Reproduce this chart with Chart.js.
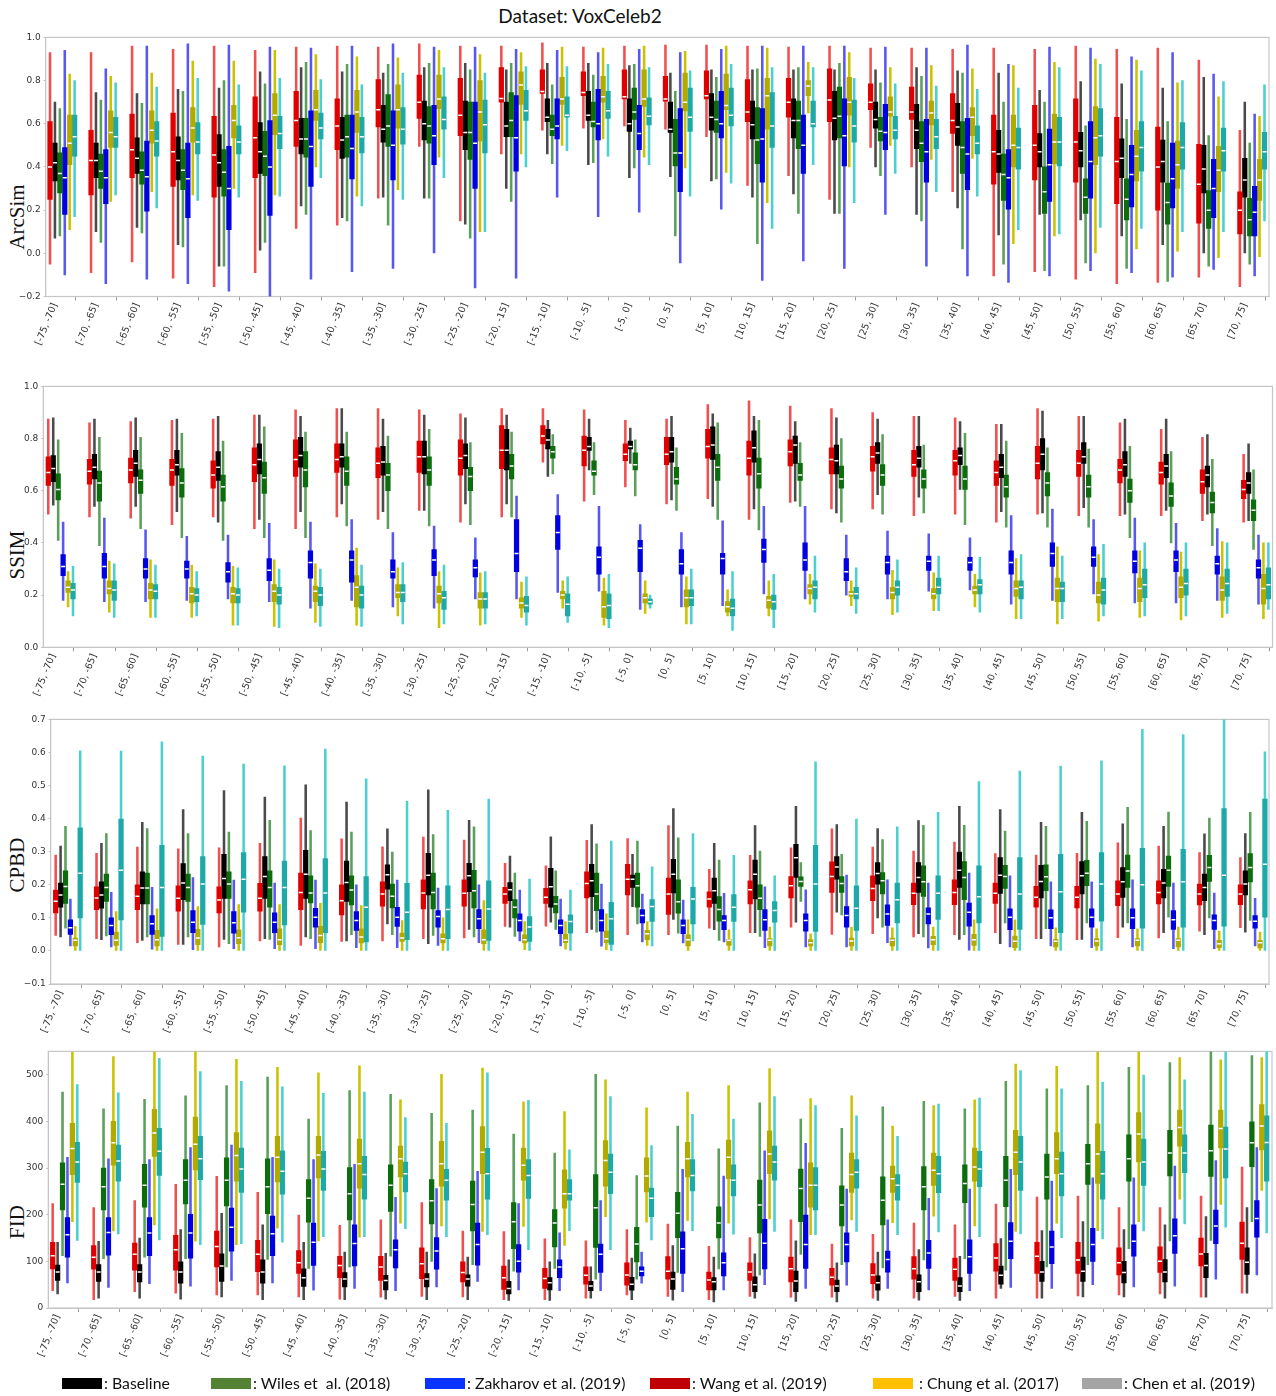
<!DOCTYPE html>
<html>
<head>
<meta charset="utf-8">
<script src="https://cdn.jsdelivr.net/npm/chart.js@4.4.1/dist/chart.umd.min.js"></script>
<style>
  body { margin: 0; width: 1276px; height: 1396px; background: #fff; position: relative; overflow: hidden; }
  canvas { position: absolute; left: 0; }
  #title { position: absolute; left: 0; width: 1160px; top: 4px; text-align: center; font-family: Lato, "Open Sans", sans-serif; font-size: 19px; color: #111; }
  .ytitle { position: absolute; font-family: "Liberation Serif", "DejaVu Serif", serif; font-size: 21px; color: #111; transform: translate(-50%, -50%) rotate(-90deg); white-space: nowrap; }
  .leg { position: absolute; top: 1373px; font-family: Lato, "Open Sans", sans-serif; font-size: 15.8px; color: #111; white-space: pre; line-height: 20px; }
  .sw { position: absolute; top: 1378px; width: 40px; height: 11px; }
</style>
</head>
<body>
<div id="title">Dataset: VoxCeleb2</div>
<div class="ytitle" style="left:17px;top:217px">ArcSim</div>
<div class="ytitle" style="left:17px;top:555px">SSIM</div>
<div class="ytitle" style="left:17px;top:865px">CPBD</div>
<div class="ytitle" style="left:17px;top:1222px">FID</div>

<canvas id="pArc"></canvas>
<canvas id="pSsim"></canvas>
<canvas id="pCpbd"></canvas>
<canvas id="pFid"></canvas>

<div class="sw" style="left:62px;background:#000"></div><div class="leg" style="left:104px">: Baseline</div>
<div class="sw" style="left:211px;background:#548235"></div><div class="leg" style="left:253px">: Wiles et  al. (2018)</div>
<div class="sw" style="left:425px;background:#0a33ff"></div><div class="leg" style="left:467px">: Zakharov et al. (2019)</div>
<div class="sw" style="left:650px;background:#c00000"></div><div class="leg" style="left:692px">: Wang et al. (2019)</div>
<div class="sw" style="left:873px;background:#ffc000"></div><div class="leg" style="left:915px"> : Chung et al. (2017)</div>
<div class="sw" style="left:1082px;background:#a5a5a5"></div><div class="leg" style="left:1124px">: Chen et al. (2019)</div>

<script>
// Head-pose bins (yaw, degrees)
const categories = ["[-75, -70]", "[-70, -65]", "[-65, -60]", "[-60, -55]", "[-55, -50]", "[-50, -45]",
  "[-45, -40]", "[-40, -35]", "[-35, -30]", "[-30, -25]", "[-25, -20]", "[-20, -15]", "[-15, -10]",
  "[-10, -5]", "[-5, 0]", "[0, 5]", "[5, 10]", "[10, 15]", "[15, 20]", "[20, 25]", "[25, 30]",
  "[30, 35]", "[35, 40]", "[40, 45]", "[45, 50]", "[50, 55]", "[55, 60]", "[60, 65]", "[65, 70]", "[70, 75]"];

// Y tick values per metric
const arcTicks = [-0.2, 0.0, 0.2, 0.4, 0.6, 0.8, 1.0];
const ssimTicks = [0.0, 0.2, 0.4, 0.6, 0.8, 1.0];
const cpbdTicks = [-0.1, 0.0, 0.1, 0.2, 0.3, 0.4, 0.5, 0.6, 0.7];
const fidTicks = [0, 100, 200, 300, 400, 500];

// Box statistics per bin: [lower whisker, Q1, median, Q3, upper whisker]
// ---- ArcSim ----
const arcWang = [[-0.05,0.25,0.40,0.61,0.93],[-0.09,0.27,0.43,0.57,0.93],[-0.04,0.35,0.48,0.645,0.96],[-0.115,0.31,0.47,0.65,0.945],[-0.155,0.26,0.455,0.635,0.96],[-0.09,0.35,0.535,0.725,0.94],[0.115,0.495,0.615,0.75,0.955],[0.13,0.48,0.59,0.715,0.96],[0.255,0.585,0.665,0.805,0.955],[0.495,0.625,0.70,0.825,0.97],[0.15,0.545,0.64,0.81,0.96],[0.46,0.70,0.717,0.86,0.96],[0.57,0.74,0.75,0.85,0.975],[0.58,0.73,0.745,0.84,0.955],[0.59,0.715,0.725,0.85,0.96],[0.575,0.705,0.715,0.82,0.965],[0.54,0.715,0.73,0.845,0.965],[0.315,0.61,0.655,0.805,0.96],[0.36,0.63,0.70,0.81,0.955],[0.25,0.61,0.71,0.855,0.96],[0.49,0.665,0.70,0.785,0.95],[0.40,0.62,0.655,0.77,0.95],[0.285,0.555,0.615,0.74,0.945],[-0.105,0.32,0.47,0.64,0.95],[-0.085,0.34,0.50,0.685,0.945],[-0.12,0.33,0.515,0.715,0.96],[-0.14,0.23,0.425,0.63,0.945],[-0.135,0.20,0.40,0.585,0.95],[-0.11,0.14,0.32,0.505,0.895],[-0.155,0.09,0.20,0.285,0.57]];
const arcBase = [[0.07,0.335,0.42,0.51,0.70],[0.10,0.35,0.43,0.51,0.745],[0.12,0.37,0.44,0.535,0.74],[0.04,0.34,0.43,0.54,0.76],[-0.06,0.31,0.42,0.55,0.765],[0.015,0.37,0.47,0.605,0.84],[0.22,0.46,0.53,0.625,0.86],[0.165,0.44,0.525,0.63,0.84],[0.26,0.515,0.575,0.685,0.835],[0.255,0.525,0.60,0.705,0.86],[0.135,0.48,0.56,0.705,0.88],[0.30,0.54,0.59,0.70,0.85],[0.46,0.61,0.63,0.715,0.88],[0.41,0.615,0.64,0.75,0.88],[0.35,0.565,0.60,0.715,0.87],[0.355,0.56,0.575,0.70,0.835],[0.335,0.57,0.63,0.74,0.85],[0.26,0.53,0.595,0.705,0.85],[0.275,0.535,0.615,0.715,0.85],[0.185,0.525,0.625,0.75,0.85],[0.40,0.58,0.62,0.70,0.85],[0.18,0.485,0.57,0.69,0.86],[0.21,0.50,0.585,0.695,0.845],[0.085,0.375,0.46,0.57,0.835],[0.18,0.40,0.47,0.555,0.755],[0.155,0.40,0.475,0.56,0.795],[0.08,0.35,0.44,0.53,0.785],[0.04,0.33,0.425,0.525,0.765],[0.0,0.28,0.39,0.50,0.815],[0.0,0.26,0.34,0.44,0.70]];
const arcWiles = [[0.08,0.28,0.37,0.465,0.67],[0.05,0.30,0.38,0.46,0.71],[0.095,0.32,0.385,0.47,0.695],[0.03,0.295,0.385,0.48,0.75],[-0.06,0.265,0.375,0.48,0.80],[0.05,0.36,0.45,0.565,0.785],[0.18,0.445,0.53,0.625,0.885],[0.15,0.445,0.54,0.64,0.875],[0.13,0.495,0.59,0.735,0.875],[0.255,0.51,0.59,0.68,0.88],[0.07,0.435,0.56,0.70,0.85],[0.24,0.54,0.615,0.745,0.88],[0.415,0.545,0.575,0.64,0.78],[0.42,0.585,0.61,0.70,0.825],[0.395,0.62,0.655,0.765,0.875],[0.08,0.405,0.465,0.62,0.75],[0.345,0.56,0.62,0.705,0.815],[0.045,0.415,0.525,0.675,0.855],[0.185,0.485,0.615,0.705,0.86],[0.185,0.535,0.635,0.77,0.88],[0.36,0.52,0.565,0.63,0.79],[0.15,0.425,0.51,0.61,0.82],[0.02,0.37,0.49,0.61,0.835],[-0.05,0.245,0.365,0.46,0.70],[-0.08,0.185,0.285,0.40,0.70],[-0.045,0.185,0.26,0.345,0.59],[-0.07,0.155,0.25,0.345,0.62],[-0.13,0.135,0.235,0.325,0.61],[-0.06,0.115,0.20,0.29,0.545],[-0.05,0.08,0.155,0.255,0.51]];
const arcZakh = [[-0.10,0.18,0.35,0.49,0.94],[-0.14,0.23,0.35,0.48,0.855],[-0.12,0.195,0.355,0.52,0.96],[-0.14,0.165,0.345,0.51,0.97],[-0.175,0.11,0.30,0.495,0.965],[-0.20,0.175,0.40,0.615,0.955],[-0.12,0.31,0.495,0.66,0.95],[-0.085,0.345,0.485,0.64,0.96],[-0.07,0.34,0.50,0.66,0.97],[0.0,0.41,0.545,0.685,0.955],[-0.16,0.30,0.51,0.70,0.955],[-0.115,0.38,0.535,0.73,0.945],[0.26,0.53,0.59,0.715,0.94],[0.17,0.525,0.60,0.76,0.93],[0.19,0.48,0.555,0.685,0.945],[-0.045,0.285,0.465,0.67,0.93],[0.205,0.535,0.60,0.75,0.945],[-0.125,0.33,0.53,0.67,0.96],[-0.035,0.37,0.50,0.64,0.96],[-0.07,0.405,0.545,0.715,0.96],[0.18,0.48,0.56,0.69,0.955],[-0.06,0.33,0.47,0.62,0.95],[-0.105,0.295,0.46,0.625,0.965],[-0.135,0.205,0.35,0.48,0.875],[-0.105,0.24,0.41,0.575,0.955],[-0.08,0.255,0.425,0.61,0.95],[-0.09,0.215,0.365,0.50,0.91],[-0.11,0.21,0.345,0.51,0.93],[-0.075,0.165,0.30,0.435,0.83],[-0.105,0.08,0.19,0.31,0.645]];
const arcChung = [[0.11,0.41,0.51,0.64,0.83],[0.24,0.49,0.56,0.66,0.82],[0.285,0.51,0.57,0.66,0.835],[0.27,0.515,0.58,0.675,0.89],[0.30,0.535,0.615,0.685,0.89],[0.27,0.55,0.64,0.74,0.94],[0.40,0.615,0.665,0.755,0.92],[0.265,0.56,0.655,0.755,0.91],[0.295,0.58,0.665,0.78,0.905],[0.445,0.67,0.715,0.825,0.94],[0.10,0.52,0.655,0.80,0.92],[0.46,0.69,0.78,0.84,0.93],[0.50,0.69,0.715,0.815,0.955],[0.53,0.70,0.725,0.82,0.95],[0.445,0.68,0.715,0.85,0.96],[0.395,0.66,0.70,0.835,0.935],[0.375,0.665,0.685,0.83,0.96],[0.235,0.575,0.73,0.81,0.95],[0.65,0.73,0.775,0.80,0.885],[0.40,0.64,0.70,0.815,0.93],[0.50,0.635,0.655,0.725,0.86],[0.435,0.595,0.65,0.705,0.87],[0.44,0.545,0.63,0.675,0.855],[0.045,0.40,0.50,0.64,0.87],[0.08,0.415,0.515,0.645,0.885],[0.0,0.41,0.535,0.68,0.90],[0.02,0.335,0.45,0.57,0.895],[0.01,0.30,0.41,0.52,0.79],[-0.02,0.285,0.385,0.495,0.725],[-0.015,0.245,0.34,0.435,0.635]];
const arcChen = [[0.17,0.45,0.54,0.64,0.80],[0.27,0.49,0.54,0.63,0.79],[0.21,0.45,0.52,0.61,0.77],[0.245,0.46,0.515,0.605,0.81],[0.26,0.46,0.515,0.59,0.78],[0.265,0.485,0.555,0.635,0.81],[0.35,0.53,0.58,0.65,0.805],[0.22,0.465,0.54,0.63,0.78],[0.25,0.505,0.575,0.675,0.835],[0.35,0.575,0.62,0.725,0.86],[0.10,0.465,0.595,0.71,0.835],[0.40,0.615,0.66,0.755,0.865],[0.475,0.63,0.64,0.725,0.865],[0.45,0.625,0.66,0.75,0.875],[0.41,0.595,0.635,0.72,0.86],[0.265,0.565,0.63,0.765,0.845],[0.325,0.59,0.64,0.765,0.875],[0.115,0.49,0.59,0.745,0.86],[0.41,0.585,0.60,0.705,0.86],[0.235,0.515,0.59,0.71,0.81],[0.37,0.53,0.57,0.635,0.785],[0.285,0.485,0.54,0.62,0.775],[0.265,0.46,0.51,0.59,0.76],[0.11,0.39,0.49,0.58,0.765],[0.09,0.405,0.515,0.63,0.86],[0.12,0.45,0.545,0.67,0.875],[0.115,0.38,0.49,0.61,0.845],[0.10,0.39,0.49,0.605,0.80],[0.10,0.38,0.475,0.58,0.795],[0.15,0.39,0.47,0.56,0.78]];

// ---- SSIM ----
const ssimWang = [[0.51,0.62,0.67,0.73,0.875],[0.50,0.625,0.675,0.72,0.86],[0.495,0.63,0.68,0.725,0.865],[0.47,0.62,0.68,0.72,0.87],[0.50,0.61,0.66,0.715,0.875],[0.455,0.635,0.70,0.765,0.89],[0.455,0.655,0.72,0.795,0.91],[0.50,0.67,0.72,0.78,0.915],[0.49,0.65,0.705,0.765,0.915],[0.525,0.67,0.73,0.79,0.91],[0.48,0.66,0.725,0.795,0.895],[0.50,0.685,0.755,0.85,0.915],[0.71,0.78,0.81,0.85,0.915],[0.56,0.695,0.755,0.81,0.91],[0.615,0.715,0.74,0.78,0.87],[0.55,0.70,0.74,0.805,0.875],[0.57,0.725,0.77,0.835,0.93],[0.49,0.66,0.725,0.79,0.945],[0.555,0.695,0.75,0.795,0.925],[0.53,0.665,0.72,0.765,0.915],[0.53,0.675,0.73,0.77,0.90],[0.505,0.655,0.70,0.755,0.885],[0.51,0.66,0.715,0.755,0.88],[0.48,0.62,0.67,0.715,0.855],[0.51,0.645,0.705,0.77,0.915],[0.505,0.655,0.705,0.755,0.885],[0.505,0.63,0.68,0.72,0.86],[0.505,0.625,0.67,0.71,0.835],[0.485,0.59,0.635,0.68,0.805],[0.48,0.57,0.605,0.64,0.74]];
const ssimBase = [[0.545,0.635,0.685,0.735,0.88],[0.54,0.645,0.69,0.74,0.875],[0.54,0.655,0.705,0.755,0.88],[0.52,0.66,0.70,0.755,0.875],[0.48,0.64,0.69,0.75,0.885],[0.49,0.665,0.72,0.78,0.89],[0.52,0.69,0.735,0.805,0.885],[0.55,0.69,0.73,0.78,0.915],[0.52,0.66,0.71,0.77,0.875],[0.525,0.665,0.73,0.79,0.89],[0.55,0.685,0.735,0.78,0.88],[0.55,0.68,0.755,0.835,0.89],[0.655,0.76,0.795,0.835,0.87],[0.68,0.755,0.77,0.805,0.875],[0.705,0.76,0.77,0.79,0.84],[0.565,0.71,0.75,0.805,0.885],[0.54,0.72,0.775,0.845,0.895],[0.53,0.71,0.765,0.83,0.885],[0.56,0.705,0.775,0.81,0.865],[0.515,0.665,0.715,0.775,0.88],[0.585,0.705,0.745,0.785,0.875],[0.575,0.69,0.725,0.77,0.885],[0.605,0.70,0.735,0.765,0.865],[0.52,0.65,0.69,0.74,0.855],[0.515,0.68,0.74,0.80,0.905],[0.535,0.705,0.73,0.785,0.885],[0.51,0.655,0.70,0.75,0.875],[0.525,0.65,0.695,0.74,0.875],[0.51,0.615,0.66,0.695,0.815],[0.485,0.59,0.63,0.67,0.78]];
const ssimWiles = [[0.41,0.565,0.605,0.665,0.795],[0.39,0.56,0.63,0.675,0.805],[0.455,0.59,0.64,0.68,0.805],[0.42,0.575,0.63,0.685,0.82],[0.41,0.56,0.615,0.66,0.79],[0.42,0.59,0.65,0.71,0.845],[0.42,0.615,0.68,0.75,0.825],[0.465,0.62,0.675,0.73,0.825],[0.455,0.60,0.66,0.705,0.81],[0.465,0.62,0.68,0.73,0.835],[0.47,0.60,0.655,0.69,0.785],[0.50,0.645,0.695,0.74,0.825],[0.665,0.725,0.75,0.77,0.815],[0.585,0.66,0.675,0.715,0.785],[0.58,0.68,0.70,0.745,0.795],[0.525,0.625,0.645,0.69,0.765],[0.49,0.64,0.69,0.74,0.86],[0.45,0.61,0.665,0.725,0.87],[0.54,0.64,0.66,0.705,0.785],[0.48,0.61,0.645,0.695,0.80],[0.51,0.62,0.66,0.70,0.815],[0.515,0.61,0.645,0.68,0.775],[0.47,0.605,0.645,0.695,0.82],[0.46,0.575,0.615,0.66,0.79],[0.46,0.58,0.63,0.67,0.765],[0.46,0.575,0.615,0.66,0.76],[0.42,0.555,0.60,0.645,0.77],[0.40,0.54,0.58,0.63,0.75],[0.39,0.515,0.555,0.595,0.72],[0.375,0.485,0.525,0.565,0.68]];
const ssimZakh = [[0.18,0.275,0.31,0.355,0.48],[0.175,0.265,0.31,0.36,0.495],[0.175,0.265,0.30,0.34,0.45],[0.18,0.265,0.30,0.33,0.425],[0.185,0.25,0.29,0.325,0.43],[0.175,0.255,0.295,0.34,0.475],[0.15,0.265,0.325,0.37,0.48],[0.18,0.25,0.335,0.37,0.49],[0.155,0.265,0.29,0.335,0.44],[0.15,0.275,0.335,0.375,0.465],[0.185,0.27,0.305,0.335,0.42],[0.185,0.29,0.36,0.49,0.58],[0.21,0.375,0.44,0.505,0.585],[0.215,0.28,0.345,0.385,0.54],[0.145,0.29,0.38,0.41,0.47],[0.155,0.28,0.32,0.375,0.44],[0.16,0.28,0.34,0.36,0.485],[0.205,0.325,0.375,0.415,0.54],[0.185,0.295,0.335,0.40,0.54],[0.20,0.255,0.29,0.34,0.43],[0.185,0.28,0.325,0.35,0.445],[0.215,0.295,0.33,0.35,0.435],[0.22,0.295,0.325,0.345,0.42],[0.165,0.28,0.325,0.37,0.505],[0.18,0.31,0.36,0.40,0.53],[0.205,0.31,0.345,0.385,0.49],[0.17,0.285,0.33,0.37,0.495],[0.17,0.29,0.335,0.37,0.475],[0.18,0.28,0.32,0.35,0.455],[0.165,0.265,0.305,0.335,0.43]];
const ssimChung = [[0.155,0.21,0.23,0.255,0.29],[0.135,0.205,0.225,0.255,0.33],[0.115,0.185,0.22,0.245,0.335],[0.115,0.17,0.205,0.23,0.315],[0.085,0.17,0.205,0.23,0.31],[0.08,0.175,0.215,0.24,0.335],[0.095,0.175,0.215,0.235,0.32],[0.085,0.155,0.23,0.275,0.38],[0.12,0.19,0.21,0.24,0.305],[0.075,0.17,0.205,0.235,0.29],[0.085,0.15,0.185,0.21,0.285],[0.115,0.15,0.17,0.19,0.25],[0.15,0.185,0.20,0.215,0.255],[0.085,0.115,0.155,0.215,0.265],[0.13,0.17,0.19,0.205,0.255],[0.09,0.155,0.19,0.22,0.27],[0.12,0.135,0.155,0.175,0.22],[0.12,0.15,0.18,0.195,0.255],[0.165,0.205,0.225,0.24,0.28],[0.16,0.195,0.205,0.215,0.255],[0.125,0.185,0.21,0.23,0.295],[0.14,0.185,0.205,0.225,0.285],[0.155,0.205,0.22,0.235,0.28],[0.11,0.195,0.225,0.255,0.34],[0.09,0.175,0.225,0.265,0.385],[0.10,0.17,0.20,0.25,0.355],[0.115,0.175,0.225,0.265,0.37],[0.105,0.19,0.23,0.27,0.365],[0.115,0.18,0.22,0.27,0.405],[0.11,0.165,0.225,0.28,0.40]];
const ssimChen = [[0.12,0.185,0.22,0.245,0.31],[0.115,0.18,0.22,0.255,0.32],[0.115,0.185,0.215,0.24,0.315],[0.12,0.175,0.20,0.225,0.29],[0.085,0.17,0.20,0.225,0.305],[0.075,0.165,0.20,0.23,0.30],[0.08,0.16,0.20,0.23,0.30],[0.08,0.15,0.20,0.235,0.315],[0.09,0.175,0.21,0.24,0.325],[0.09,0.145,0.19,0.215,0.315],[0.09,0.15,0.185,0.21,0.29],[0.085,0.135,0.16,0.195,0.27],[0.095,0.12,0.165,0.205,0.27],[0.075,0.11,0.16,0.205,0.28],[0.15,0.165,0.175,0.185,0.20],[0.09,0.16,0.19,0.22,0.30],[0.065,0.12,0.15,0.185,0.29],[0.075,0.145,0.175,0.20,0.28],[0.135,0.185,0.23,0.255,0.35],[0.13,0.185,0.205,0.23,0.305],[0.135,0.20,0.23,0.255,0.335],[0.14,0.205,0.23,0.265,0.35],[0.135,0.205,0.24,0.26,0.345],[0.11,0.185,0.23,0.255,0.355],[0.11,0.175,0.225,0.25,0.35],[0.12,0.165,0.22,0.265,0.395],[0.12,0.19,0.24,0.30,0.40],[0.12,0.20,0.245,0.30,0.40],[0.13,0.195,0.245,0.30,0.40],[0.145,0.185,0.24,0.305,0.40]];

// ---- CPBD ----
const cpbdWang = [[0.047,0.115,0.15,0.184,0.29],[0.037,0.125,0.16,0.194,0.295],[0.025,0.125,0.165,0.20,0.314],[0.02,0.12,0.159,0.197,0.309],[0.012,0.115,0.154,0.194,0.312],[0.03,0.12,0.159,0.204,0.325],[0.017,0.125,0.177,0.235,0.402],[0.029,0.109,0.152,0.20,0.339],[0.03,0.135,0.172,0.209,0.315],[0.037,0.127,0.175,0.215,0.344],[0.039,0.135,0.174,0.215,0.335],[0.074,0.144,0.172,0.192,0.265],[0.075,0.144,0.162,0.189,0.257],[0.055,0.16,0.204,0.239,0.334],[0.049,0.169,0.217,0.262,0.34],[0.049,0.11,0.172,0.22,0.379],[0.069,0.132,0.157,0.179,0.247],[0.055,0.142,0.185,0.212,0.289],[0.072,0.16,0.197,0.225,0.312],[0.05,0.177,0.225,0.269,0.369],[0.052,0.152,0.189,0.227,0.314],[0.042,0.14,0.174,0.205,0.302],[0.049,0.14,0.177,0.215,0.329],[0.055,0.144,0.174,0.205,0.294],[0.037,0.132,0.162,0.195,0.29],[0.034,0.13,0.162,0.195,0.295],[0.04,0.137,0.172,0.212,0.327],[0.039,0.142,0.177,0.212,0.317],[0.06,0.139,0.172,0.202,0.297],[0.07,0.14,0.172,0.20,0.282]];
const cpbdBase = [[0.042,0.132,0.169,0.205,0.317],[0.034,0.129,0.169,0.209,0.325],[0.032,0.142,0.19,0.239,0.389],[0.02,0.155,0.205,0.264,0.427],[0.035,0.159,0.219,0.292,0.485],[0.037,0.159,0.225,0.285,0.465],[0.042,0.159,0.232,0.304,0.502],[0.03,0.15,0.207,0.272,0.45],[0.082,0.187,0.23,0.26,0.369],[0.022,0.169,0.229,0.295,0.487],[0.065,0.179,0.227,0.265,0.395],[0.072,0.152,0.185,0.207,0.287],[0.087,0.132,0.194,0.25,0.345],[0.065,0.164,0.212,0.262,0.382],[0.134,0.192,0.217,0.229,0.292],[0.095,0.175,0.232,0.277,0.43],[0.064,0.144,0.182,0.22,0.325],[0.055,0.157,0.232,0.275,0.379],[0.087,0.222,0.282,0.322,0.437],[0.117,0.217,0.254,0.285,0.382],[0.10,0.202,0.234,0.267,0.37],[0.052,0.177,0.222,0.267,0.394],[0.035,0.192,0.244,0.299,0.437],[0.022,0.174,0.229,0.282,0.427],[0.037,0.16,0.21,0.259,0.389],[0.035,0.172,0.227,0.27,0.419],[0.072,0.162,0.209,0.252,0.384],[0.055,0.16,0.205,0.247,0.377],[0.049,0.152,0.192,0.232,0.354],[0.057,0.169,0.202,0.242,0.355]];
const cpbdWiles = [[0.069,0.144,0.195,0.242,0.377],[0.045,0.15,0.192,0.232,0.355],[0.042,0.142,0.19,0.235,0.37],[0.042,0.15,0.192,0.232,0.355],[0.022,0.159,0.202,0.239,0.359],[0.035,0.132,0.192,0.242,0.395],[0.037,0.145,0.175,0.227,0.364],[0.049,0.139,0.184,0.227,0.359],[0.049,0.13,0.165,0.202,0.299],[0.047,0.127,0.177,0.235,0.352],[0.042,0.13,0.182,0.244,0.375],[0.044,0.10,0.132,0.155,0.235],[0.065,0.115,0.142,0.165,0.242],[0.057,0.122,0.172,0.235,0.324],[0.082,0.132,0.197,0.235,0.332],[0.054,0.114,0.149,0.215,0.342],[0.032,0.09,0.125,0.164,0.275],[0.044,0.125,0.159,0.20,0.302],[0.15,0.195,0.21,0.224,0.267],[0.109,0.177,0.204,0.225,0.292],[0.072,0.172,0.212,0.237,0.337],[0.042,0.165,0.209,0.257,0.38],[0.049,0.155,0.222,0.27,0.38],[0.085,0.189,0.225,0.259,0.362],[0.067,0.182,0.224,0.26,0.377],[0.085,0.197,0.235,0.274,0.392],[0.085,0.192,0.242,0.29,0.434],[0.102,0.195,0.244,0.287,0.42],[0.10,0.21,0.252,0.289,0.402],[0.092,0.209,0.252,0.294,0.419]];
const cpbdZakh = [[0.015,0.05,0.07,0.094,0.157],[0.012,0.049,0.077,0.10,0.177],[0.005,0.05,0.082,0.107,0.192],[0.004,0.055,0.087,0.122,0.222],[0.007,0.054,0.085,0.119,0.214],[0.007,0.055,0.087,0.115,0.205],[0.007,0.072,0.102,0.129,0.214],[0.01,0.062,0.092,0.119,0.20],[0.01,0.074,0.102,0.132,0.214],[0.017,0.072,0.104,0.122,0.19],[0.025,0.067,0.097,0.125,0.20],[0.03,0.06,0.092,0.112,0.184],[0.015,0.052,0.077,0.094,0.157],[0.014,0.06,0.092,0.125,0.202],[0.027,0.085,0.107,0.125,0.172],[0.024,0.052,0.077,0.094,0.154],[0.027,0.064,0.092,0.107,0.174],[0.01,0.062,0.094,0.125,0.194],[0.012,0.06,0.092,0.112,0.185],[0.012,0.072,0.107,0.134,0.229],[0.025,0.077,0.112,0.139,0.215],[0.009,0.082,0.112,0.13,0.205],[0.002,0.075,0.117,0.145,0.235],[0.012,0.064,0.102,0.127,0.227],[0.015,0.067,0.10,0.124,0.209],[0.01,0.072,0.102,0.127,0.209],[0.012,0.067,0.10,0.127,0.215],[0.007,0.065,0.094,0.122,0.205],[0.007,0.065,0.092,0.109,0.175],[0.015,0.069,0.09,0.107,0.159]];
const cpbdChung = [[0.0,0.015,0.032,0.039,0.074],[0.0,0.017,0.032,0.057,0.119],[0.0,0.015,0.034,0.062,0.127],[0.0,0.019,0.039,0.065,0.134],[0.0,0.022,0.04,0.064,0.14],[0.0,0.019,0.034,0.067,0.14],[0.0,0.025,0.047,0.074,0.144],[0.0,0.024,0.042,0.067,0.137],[0.0,0.029,0.039,0.054,0.092],[0.0,0.024,0.037,0.052,0.10],[0.0,0.022,0.034,0.064,0.152],[0.004,0.024,0.034,0.049,0.089],[0.005,0.025,0.032,0.05,0.089],[0.004,0.025,0.037,0.06,0.112],[0.017,0.034,0.052,0.062,0.089],[0.0,0.015,0.034,0.049,0.094],[0.0,0.017,0.032,0.035,0.064],[0.0,0.015,0.032,0.037,0.072],[0.0,0.015,0.025,0.034,0.052],[0.0,0.015,0.03,0.039,0.072],[0.0,0.015,0.032,0.039,0.07],[0.0,0.019,0.034,0.044,0.072],[0.0,0.017,0.034,0.05,0.094],[0.0,0.01,0.029,0.045,0.094],[0.0,0.012,0.029,0.035,0.07],[0.0,0.015,0.03,0.037,0.067],[0.0,0.015,0.032,0.037,0.067],[0.0,0.012,0.032,0.037,0.072],[0.0,0.01,0.022,0.032,0.06],[0.0,0.009,0.025,0.032,0.057]];
const cpbdChen = [[0.0,0.10,0.235,0.372,0.605],[0.0,0.094,0.244,0.399,0.604],[0.0,0.044,0.192,0.319,0.632],[0.0,0.08,0.202,0.285,0.589],[0.0,0.117,0.217,0.297,0.565],[0.0,0.079,0.192,0.272,0.56],[0.0,0.055,0.175,0.279,0.61],[0.0,0.027,0.132,0.225,0.52],[0.0,0.034,0.117,0.204,0.452],[0.0,0.037,0.125,0.197,0.425],[0.0,0.032,0.127,0.212,0.459],[0.0,0.029,0.072,0.104,0.217],[0.0,0.054,0.089,0.109,0.184],[0.0,0.02,0.097,0.147,0.332],[0.015,0.089,0.134,0.155,0.254],[0.03,0.082,0.157,0.192,0.355],[0.0,0.089,0.132,0.17,0.289],[0.0,0.087,0.122,0.149,0.227],[0.0,0.059,0.202,0.319,0.572],[0.0,0.062,0.129,0.197,0.399],[0.0,0.085,0.155,0.205,0.375],[0.0,0.095,0.174,0.227,0.419],[0.0,0.085,0.164,0.257,0.512],[0.0,0.065,0.172,0.282,0.544],[0.0,0.055,0.179,0.292,0.559],[0.0,0.09,0.202,0.297,0.575],[0.0,0.069,0.20,0.31,0.67],[0.0,0.072,0.209,0.307,0.654],[0.0,0.075,0.229,0.43,0.70],[0.0,0.102,0.262,0.459,0.602]];

// ---- FID ----
const fidWang = [[37,84,112,141,224],[18,83,109,134,215],[35,81,115,139,230],[32,81,125,156,265],[28,88,132,165,282],[28,78,115,145,248],[24,74,97,123,199],[19,65,91,111,177],[23,59,88,111,189],[25,63,95,129,226],[24,56,76,99,165],[18,40,65,90,164],[18,42,63,85,148],[21,51,70,88,144],[28,49,71,97,168],[25,62,79,110,180],[18,39,60,77,132],[25,59,77,97,151],[23,56,84,109,189],[23,49,66,85,137],[21,52,71,95,158],[21,62,84,110,182],[25,59,83,107,178],[21,79,107,138,223],[21,74,111,141,238],[26,74,103,141,240],[28,71,97,129,215],[30,76,100,131,215],[23,90,116,150,240],[32,104,139,184,302]];
const fidBase = [[30,59,77,92,141],[21,57,77,93,143],[21,56,77,93,150],[19,53,77,99,168],[24,57,90,116,203],[18,53,77,103,178],[18,46,65,84,141],[18,45,62,76,120],[19,39,59,70,117],[18,45,62,74,120],[18,47,62,71,109],[16,30,42,57,103],[16,39,54,65,99],[21,37,47,57,88],[18,38,51,66,107],[17,40,62,77,134],[13,39,56,65,109],[21,35,50,67,116],[14,35,58,79,144],[13,35,47,60,97],[16,38,54,69,120],[17,35,56,71,125],[16,35,47,65,111],[42,51,70,90,149],[21,57,77,100,166],[24,57,79,109,185],[24,54,76,100,168],[21,56,77,104,178],[23,65,91,117,196],[32,72,98,129,215]];
const fidWiles = [[112,210,265,311,463],[106,210,260,300,427],[109,216,263,308,447],[106,223,274,318,455],[88,219,274,322,477],[104,202,260,320,495],[85,184,235,275,405],[88,189,245,301,466],[111,207,263,307,458],[100,180,230,275,417],[93,165,222,272,424],[79,127,185,226,373],[85,131,182,211,332],[62,130,215,286,501],[62,99,137,173,284],[76,151,203,248,390],[84,150,182,217,341],[71,161,221,274,440],[115,185,256,298,405],[93,176,221,262,385],[86,178,231,281,431],[103,210,260,303,443],[106,226,267,307,427],[81,217,274,325,486],[88,233,281,330,470],[93,265,309,351,477],[127,272,320,371,516],[144,283,332,381,526],[145,282,337,392,560],[185,303,354,399,541]];
const fidZakh = [[54,109,157,194,323],[44,113,162,194,320],[52,112,161,194,318],[47,107,161,201,344],[59,122,173,214,349],[54,112,159,197,323],[38,91,141,182,318],[42,90,138,178,308],[37,86,125,146,237],[45,83,122,151,256],[57,92,136,182,293],[39,77,100,136,224],[37,65,88,103,161],[37,76,115,137,230],[53,69,79,88,120],[35,74,127,163,297],[39,69,97,118,283],[50,84,139,190,337],[42,85,136,199,353],[49,99,136,161,255],[42,77,104,122,189],[39,85,118,145,235],[37,74,110,146,255],[44,106,143,183,297],[42,95,131,165,272],[50,100,136,171,279],[45,111,143,178,279],[47,117,155,191,304],[62,138,176,210,316],[71,152,192,230,344]];
const fidChung = [[185,286,342,396,548],[165,306,354,400,539],[178,325,375,426,560],[143,296,351,409,560],[136,272,327,376,533],[171,270,323,368,516],[144,279,328,368,504],[152,257,309,362,519],[182,281,320,347,446],[176,261,309,357,501],[164,288,334,389,514],[175,274,306,343,442],[134,214,245,296,421],[196,261,316,359,489],[184,249,283,322,429],[187,281,320,355,463],[182,277,323,360,477],[191,288,330,380,513],[157,216,263,311,449],[189,248,286,332,455],[183,248,277,304,390],[197,263,295,332,434],[176,272,302,343,446],[164,286,334,381,523],[182,288,320,376,518],[166,267,330,395,560],[185,313,373,419,560],[233,347,387,424,537],[222,343,385,424,532],[252,339,390,436,537]];
const fidChen = [[145,269,313,355,479],[159,272,315,349,461],[146,284,336,385,535],[136,275,320,368,507],[138,248,298,343,486],[141,244,293,337,474],[153,252,298,336,460],[153,233,286,325,463],[170,249,288,313,408],[153,231,274,297,396],[157,233,288,342,504],[125,235,284,318,445],[166,231,245,275,339],[125,245,291,330,453],[146,196,235,257,348],[166,251,284,318,415],[158,240,274,307,405],[164,274,313,347,453],[157,210,263,301,434],[164,257,291,318,412],[157,231,263,286,368],[163,247,288,325,437],[153,260,298,336,450],[159,252,313,368,509],[151,240,288,334,470],[148,233,288,336,484],[165,263,313,362,499],[180,290,332,371,489],[173,279,341,388,560],[161,272,355,412,560]];

// Drawing order inside each bin: Wang, Baseline, Wiles, Zakharov, Chung, Chen
const boxFill = ['#e00000', '#000000', '#0b6d0b', '#0000e0', '#b3aa00', '#1ea9a9'];
const whiskerFill = ['#f05050', '#4a4a4a', '#5aa05a', '#5858f0', '#cbc300', '#4bd0d0'];
const GROUP_STEP = 0.12;

const panels = [
  { id: 'pArc', series: [arcWang, arcBase, arcWiles, arcZakh, arcChung, arcChen], ticks: arcTicks,
    ymin: -0.2, ymax: 1.0, digits: 1, l: 45.7, t: 34.5, r: 1269, b: 296, xmin: -0.225, xmax: 29.59 },
  { id: 'pSsim', series: [ssimWang, ssimBase, ssimWiles, ssimZakh, ssimChung, ssimChen], ticks: ssimTicks,
    ymin: 0, ymax: 1.0, digits: 1, l: 43.3, t: 384, r: 1275, b: 647.3, xmin: -0.241, xmax: 29.58 },
  { id: 'pCpbd', series: [cpbdWang, cpbdBase, cpbdWiles, cpbdZakh, cpbdChung, cpbdChen], ticks: cpbdTicks,
    ymin: -0.1, ymax: 0.7, digits: 1, l: 50.7, t: 717.3, r: 1269, b: 984.3, xmin: -0.242, xmax: 29.58 },
  { id: 'pFid', series: [fidWang, fidBase, fidWiles, fidZakh, fidChung, fidChen], ticks: fidTicks,
    ymin: 0, ymax: 550, digits: 0, l: 48.3, t: 1048.7, r: 1272, b: 1307.7, xmin: -0.227, xmax: 29.61 }
];

const framePlugin = {
  id: 'frame',
  beforeDatasetsDraw(chart) {
    const { ctx, chartArea: a } = chart;
    ctx.save();
    ctx.strokeStyle = '#c6c6c6';
    ctx.lineWidth = 1.2;
    ctx.strokeRect(a.left, a.top, a.right - a.left, a.bottom - a.top);
    ctx.restore();
  }
};

function buildDatasets(seriesList) {
  const ds = [];
  seriesList.forEach((rows, k) => {
    const pos = i => i + (k - 1) * GROUP_STEP;
    const common = { type: 'bar', grouped: false, categoryPercentage: 1, barPercentage: 1, borderWidth: 0 };
    ds.push(Object.assign({}, common, {
      order: 3, maxBarThickness: 1.9, backgroundColor: whiskerFill[k],
      data: rows.map((s, i) => ({ x: pos(i), y: [s[0], s[4]] }))
    }));
    ds.push(Object.assign({}, common, {
      order: 2, maxBarThickness: 4.6, backgroundColor: boxFill[k],
      data: rows.map((s, i) => ({ x: pos(i), y: [s[1], s[3]] }))
    }));
    ds.push({
      type: 'scatter', order: 1, pointStyle: 'line', pointRadius: 2, pointHoverRadius: 2,
      pointBorderColor: '#ffffff', pointBackgroundColor: '#ffffff', pointBorderWidth: 1.5,
      data: rows.map((s, i) => ({ x: pos(i), y: s[2] }))
    });
  });
  return ds;
}

const XAXIS_H = 62, PAD_TOP = 6;
const tickFont = { family: 'DejaVu Sans', size: 9 };

panels.forEach(p => {
  const canvas = document.getElementById(p.id);
  const plotH = p.b - p.t;
  const H = Math.ceil(plotH + PAD_TOP + XAXIS_H);
  canvas.width = 1276; canvas.height = H;
  canvas.style.top = (p.t - PAD_TOP) + 'px';
  const fmt = v => {
    const s = Math.abs(v).toFixed(p.digits);
    return (v < -1e-9 ? '\u2212' : '') + s;
  };
  new Chart(canvas, {
    type: 'bar',
    data: { datasets: buildDatasets(p.series) },
    plugins: [framePlugin],
    options: {
      responsive: false,
      animation: false,
      events: [],
      layout: { padding: { left: 0, top: PAD_TOP, right: 1276 - p.r, bottom: 0 } },
      plugins: { legend: { display: false }, tooltip: { enabled: false }, title: { display: false } },
      scales: {
        x: {
          type: 'linear', min: p.xmin, max: p.xmax, offset: false,
          afterBuildTicks: s => { s.ticks = categories.map((c, i) => ({ value: i })); },
          afterFit: s => { s.height = H - PAD_TOP - plotH; },
          ticks: { autoSkip: false, minRotation: 68, maxRotation: 68, padding: 1, color: '#333',
                   font: { family: 'DejaVu Sans', size: 9.5 }, callback: v => categories[Math.round(v)] },
          grid: { display: true, drawOnChartArea: false, drawTicks: true, tickLength: 4, color: '#9a9a9a' },
          border: { display: true, color: '#c6c6c6' }
        },
        y: {
          type: 'linear', min: p.ymin, max: p.ymax,
          afterBuildTicks: s => { s.ticks = p.ticks.map(v => ({ value: v })); },
          afterFit: s => { s.width = p.l; },
          ticks: { color: '#333', font: tickFont, padding: 3, callback: v => fmt(v) },
          grid: { display: true, drawOnChartArea: false, drawTicks: true, tickLength: 2, color: '#bbbbbb' },
          border: { display: true, color: '#c6c6c6' }
        }
      }
    }
  });
});
</script>
</body>
</html>
